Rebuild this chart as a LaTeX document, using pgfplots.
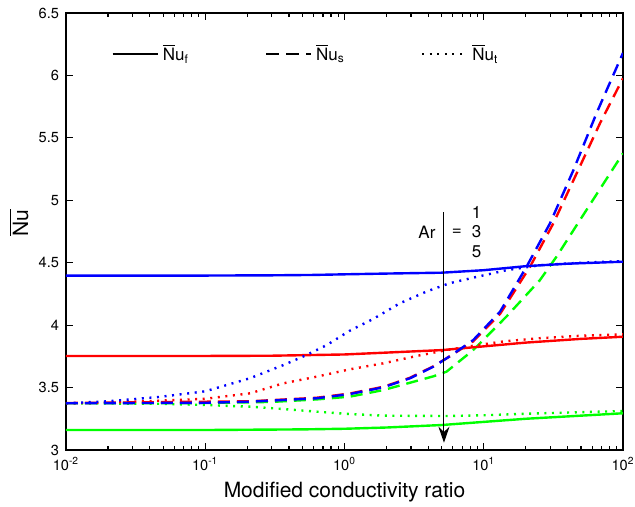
\documentclass[border=0pt]{standalone}
\usepackage{fontspec}
\setmainfont{TeX Gyre Heros}
\usepackage{pgfplots}
\pgfplotsset{compat=1.18}
\usetikzlibrary{arrows.meta}
\definecolor{mblue}{RGB}{0,0,255}
\definecolor{mred}{RGB}{255,0,0}
\definecolor{mgreen}{RGB}{0,255,0}
\newcommand{\Nub}{$\overline{\hbox{N}}$u}
\begin{document}
\begin{tikzpicture}
\begin{axis}[
  scale only axis, width=278.5pt, height=218.5pt,
  xmode=log, xmin=0.01, xmax=100, ymin=3, ymax=6.5,
  xtick={0.01,0.1,1,10,100},
  xticklabels={10\textsuperscript{-2},10\textsuperscript{-1},10\textsuperscript{0},10\textsuperscript{1},10\textsuperscript{2}},
  ytick={3,3.5,4,4.5,5,5.5,6,6.5},
  yticklabels={3,3.5,4,4.5,5,5.5,6,6.5},
  tick align=inside,
  major tick length=3.5pt, minor tick length=2pt,
  every tick/.style={black, line width=0.6pt},
  axis line style={line width=0.8pt},
  ticklabel style={font=\fontsize{7.3}{8}\selectfont},
  xlabel={Modified conductivity ratio},
  ylabel={$\overline{\hbox{Nu}}$},
  label style={font=\fontsize{10.5}{12}\selectfont},
  xlabel style={at={(axis description cs:0.5,-0.096)}, anchor=center},
  ylabel style={at={(axis description cs:-0.085,0.52)}, anchor=center},
  legend columns=3,
  legend style={draw=none, fill=none, at={(axis description cs:0.07,0.906)}, anchor=west,
    font=\fontsize{8.5}{10}\selectfont,
    /tikz/every even column/.append style={column sep=36pt}},
  legend image code/.code={\draw[#1] (0pt,0pt) -- (22.5pt,0pt);},
]
\addlegendimage{black, line width=1.2pt}
\addlegendentry{\Nub\textsubscript{f}}
\addlegendimage{black, line width=1.2pt, dash pattern=on 6.5pt off 3.5pt}
\addlegendentry{\Nub\textsubscript{s}}
\addlegendimage{black, line width=1.2pt, dash pattern=on 1pt off 2.8pt}
\addlegendentry{\Nub\textsubscript{t}}

% Ar = 1 (green)
\addplot[mgreen, line width=1.2pt, forget plot] coordinates {
(0.01,3.16)(0.1,3.16)(0.5,3.165)(1,3.17)(2,3.18)(5,3.20)(10,3.225)(20,3.25)(50,3.275)(100,3.294)};
\addplot[mgreen, line width=1.2pt, dash pattern=on 1pt off 2.8pt, forget plot] coordinates {
(0.01,3.374)(0.05,3.37)(0.1,3.36)(0.21,3.347)(0.364,3.328)(0.63,3.307)(1.09,3.288)(1.9,3.275)(5.4,3.272)(10,3.278)(20,3.29)(50,3.303)(100,3.312)};
\addplot[mgreen, line width=1.2pt, dash pattern=on 6pt off 3.5pt, forget plot] coordinates {
(0.01,3.374)(0.1,3.376)(0.3,3.385)(0.63,3.405)(1.09,3.427)(1.9,3.48)(4.35,3.59)(5.4,3.627)(8.4,3.80)(14.6,4.07)(25.3,4.36)(33.4,4.55)(49,4.84)(100,5.376)};

% Ar = 3 (red)
\addplot[mred, line width=1.2pt, forget plot] coordinates {
(0.01,3.753)(0.1,3.753)(0.3,3.755)(1,3.765)(2,3.78)(5,3.80)(10,3.83)(20,3.86)(50,3.89)(100,3.907)};
\addplot[mred, line width=1.2pt, dash pattern=on 1pt off 2.8pt, forget plot] coordinates {
(0.01,3.374)(0.02,3.38)(0.047,3.395)(0.1,3.41)(0.21,3.454)(0.364,3.534)(0.63,3.587)(1.09,3.646)(1.9,3.694)(3.3,3.753)(5.4,3.80)(8.4,3.835)(14,3.87)(25,3.895)(50,3.915)(100,3.926)};
\addplot[mred, line width=1.2pt, dash pattern=on 6pt off 3.5pt, forget plot] coordinates {
(0.01,3.376)(0.21,3.39)(0.63,3.418)(1.09,3.452)(1.9,3.506)(2.95,3.578)(4.35,3.67)(5.6,3.745)(8.4,3.87)(13.1,4.09)(21.5,4.468)(31.6,4.815)(46.5,5.216)(68.4,5.617)(100,5.977)};

% Ar = 5 (blue)
\addplot[mblue, line width=1.2pt, forget plot] coordinates {
(0.01,4.396)(0.1,4.397)(0.3,4.399)(0.6,4.402)(1,4.407)(2,4.413)(5,4.42)(10,4.44)(20,4.472)(40,4.492)(100,4.508)};
\addplot[mblue, line width=1.2pt, dash pattern=on 1pt off 2.8pt, forget plot] coordinates {
(0.01,3.374)(0.02,3.39)(0.047,3.425)(0.1,3.47)(0.21,3.575)(0.364,3.68)(0.52,3.755)(0.745,3.84)(1.09,3.955)(1.61,4.05)(2.5,4.175)(3.9,4.27)(5.66,4.335)(8.4,4.38)(14.6,4.44)(25.3,4.48)(50,4.50)(100,4.512)};
\addplot[mblue, line width=1.2pt, dash pattern=on 6pt off 3.5pt, forget plot] coordinates {
(0.01,3.374)(0.1,3.378)(0.21,3.387)(0.63,3.414)(1.09,3.448)(1.9,3.502)(2.95,3.574)(4.35,3.667)(5.6,3.745)(8.4,3.88)(13.1,4.108)(20.3,4.468)(29.9,4.815)(44,5.24)(64.7,5.70)(100,6.18)};

\draw[black, line width=0.5pt, -{Stealth[length=8pt,width=5.5pt]}] (axis cs:5.18,4.906) -- (axis cs:5.18,3.058);
\node[font=\fontsize{8.5}{10}\selectfont] at (axis cs:3.91,4.746) {Ar};
\node[font=\fontsize{8.5}{10}\selectfont] at (axis cs:6.4,4.746) {=};
\node[font=\fontsize{8.5}{10}\selectfont] at (axis cs:8.9,4.906) {1};
\node[font=\fontsize{8.5}{10}\selectfont] at (axis cs:8.9,4.746) {3};
\node[font=\fontsize{8.5}{10}\selectfont] at (axis cs:8.9,4.586) {5};
\end{axis}
\pgfresetboundingbox
\path[use as bounding box] ([shift={(-33pt,-28.5pt)}]current axis.south west) rectangle ([shift={(6pt,6.5pt)}]current axis.north east);
\end{tikzpicture}
\end{document}
